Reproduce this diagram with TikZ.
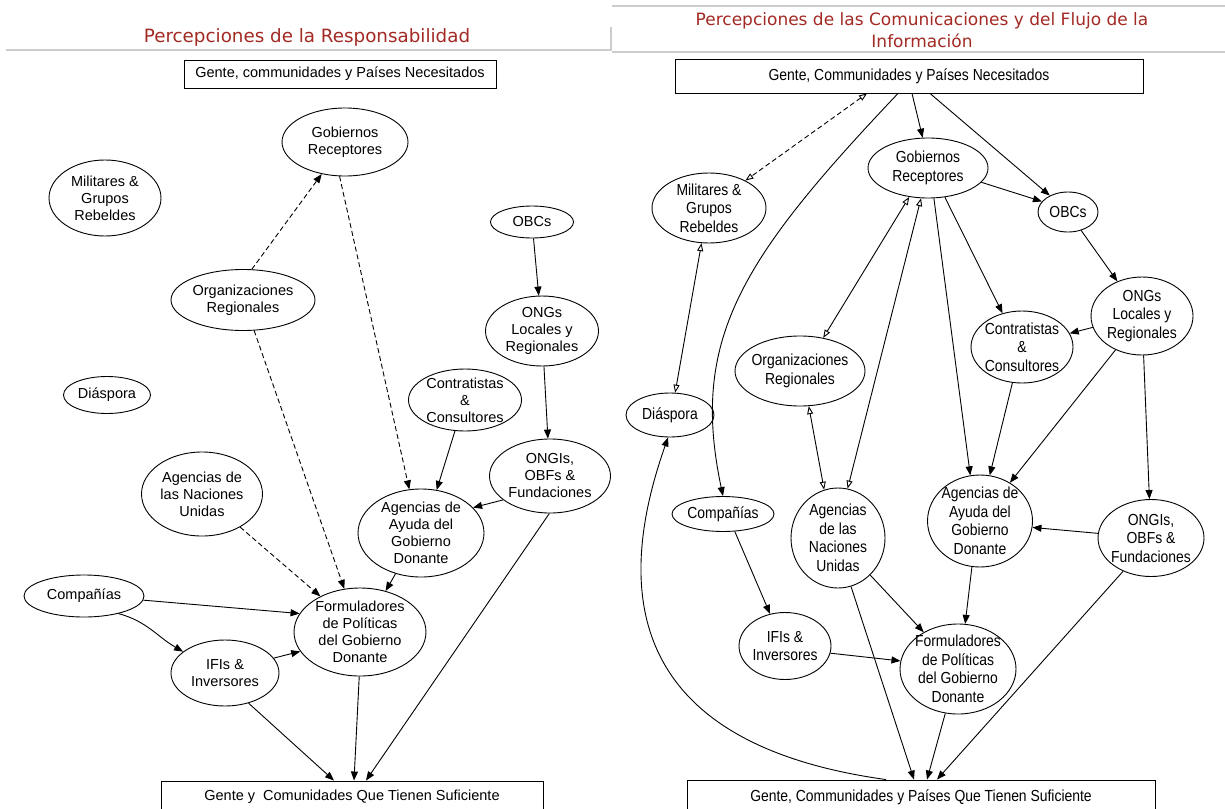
\documentclass[tikz,border=0pt]{standalone}
\usepackage{fontspec}
\setmainfont{Liberation Sans}
\newfontfamily\narrowsans[FakeStretch=0.87]{Liberation Sans}
\newfontfamily\titlefont{DejaVu Sans}
\usetikzlibrary{shapes.geometric, arrows.meta}
\definecolor{titlered}{RGB}{163,42,36}
\begin{document}
\begin{tikzpicture}[x=1pt, y=-1pt,
    actor/.style={ellipse, draw, line width=0.9pt, inner sep=-6pt, align=center, font=\fontsize{14.5}{17}\selectfont},
    actorR/.style={actor, font=\narrowsans\fontsize{16}{18.5}\selectfont},
    box/.style={draw, line width=0.9pt, inner sep=0pt, font=\fontsize{14.5}{17}\selectfont},
    boxR/.style={box, font=\narrowsans\fontsize{16}{18.5}\selectfont},
    flow/.style={-{Triangle[length=9pt, width=7pt]}, line width=0.9pt},
    hint/.style={flow, dash pattern=on 5pt off 3pt},
    link/.style={{Triangle[open, length=8pt, width=6pt]}-{Triangle[open, length=8pt, width=6pt]}, line width=0.9pt},
    title/.style={text=titlered, anchor=base, inner sep=0pt},
    rule/.style={draw=black!20, line width=1.6pt}]
    \path[use as bounding box, fill=white] (0, 0) rectangle (1225, 808);
    \draw[rule] (6, 50) -- (611, 50) -- (611, 27);
    \draw[rule] (612, 6) -- (1225, 6);
    \draw[rule] (612, 52) -- (1225, 52);
    \node[title, font=\titlefont\fontsize{18.3}{22}\selectfont] (headL) at (307, 43) {Percepciones de la Responsabilidad};
    \node[title, font=\titlefont\fontsize{17}{22}\selectfont] (headR) at (922, 26) {Percepciones de las Comunicaciones y del Flujo de la};
    \node[title, font=\titlefont\fontsize{17}{22}\selectfont] (headR2) at (922, 48) {Información};

    \node[box, minimum width=312pt, minimum height=28pt] (needL) at (340, 74) {Gente, communidades y Países Necesitados};
    \node[actor, minimum width=126pt, minimum height=68pt] (gobL) at (345, 142) {Gobiernos\\Receptores};
    \node[actor, minimum width=112pt, minimum height=76pt] (milL) at (105, 198) {Militares \&\\Grupos\\Rebeldes};
    \node[actor, minimum width=83pt, minimum height=32pt] (obcL) at (532, 222) {OBCs};
    \node[actor, minimum width=144pt, minimum height=61pt] (orgL) at (243, 300) {Organizaciones\\Regionales};
    \node[actor, minimum width=113pt, minimum height=70pt] (ongL) at (542, 331) {ONGs\\Locales y\\Regionales};
    \node[actor, minimum width=87pt, minimum height=37pt] (diaL) at (107, 395) {Diáspora};
    \node[actor, minimum width=113pt, minimum height=62pt] (conL) at (465, 400) {Contratistas\\\&\\Consultores};
    \node[actor, minimum width=121pt, minimum height=74pt] (ongiL) at (550, 476) {ONGIs,\\OBFs \&\\Fundaciones};
    \node[actor, minimum width=121pt, minimum height=84pt] (unL) at (202, 494) {Agencias de\\las Naciones\\Unidas};
    \node[actor, minimum width=126pt, minimum height=88pt] (aidL) at (421, 533) {Agencias de\\Ayuda del\\Gobierno\\Donante};
    \node[actor, minimum width=120pt, minimum height=42pt] (compL) at (84, 596) {Compañías};
    \node[actor, minimum width=132pt, minimum height=88pt] (polL) at (360, 632) {Formuladores\\de Políticas\\del Gobierno\\Donante};
    \node[actor, minimum width=108pt, minimum height=66pt] (ifiL) at (225, 673) {IFIs \&\\Inversores};
    \node[box, minimum width=382pt, minimum height=31pt] (richL) at (352, 796.5) {Gente y~ Comunidades Que Tienen Suficiente};

    \draw[hint] (orgL.74) -- (gobL.-126);
    \draw[hint] (gobL.-99) -- (aidL.105);
    \draw[hint] (orgL.-70) -- (polL.110);
    \draw[hint] (unL.-41) -- (polL.138);
    \draw[flow] (obcL) -- (ongL);
    \draw[flow] (ongL) -- (ongiL);
    \draw[flow] (conL.-108) -- (aidL.70);
    \draw[flow] (ongiL.-153) -- (aidL.26);
    \draw[flow] (aidL.-122) -- (polL.58);
    \draw[flow] (compL.-4) -- (polL.163);
    \draw[flow] (compL.-27) to[out=-15, in=150] (ifiL.153);
    \draw[flow] (ifiL.17) -- (polL.198);
    \draw[flow] (ifiL.-52) -- ([xshift=-18pt]richL.north);
    \draw[flow] (polL.-91) -- ([xshift=2pt]richL.north);
    \draw[flow] (ongiL.-91) -- ([xshift=14pt]richL.north);

    \node[boxR, minimum width=468pt, minimum height=34pt] (needR) at (909, 76) {Gente, Communidades y Países Necesitados};
    \node[actorR, minimum width=120pt, minimum height=60pt] (gobR) at (928, 168) {Gobiernos\\Receptores};
    \node[actorR, minimum width=114pt, minimum height=70pt] (milR) at (709, 208) {Militares \&\\Grupos\\Rebeldes};
    \node[actorR, minimum width=60pt, minimum height=40pt] (obcR) at (1068, 212) {OBCs};
    \node[actorR, minimum width=102pt, minimum height=78pt] (ongR) at (1142, 316) {ONGs\\Locales y\\Regionales};
    \node[actorR, minimum width=102pt, minimum height=72pt] (conR) at (1022, 347) {Contratistas\\\&\\Consultores};
    \node[actorR, minimum width=130pt, minimum height=70pt] (orgR) at (800, 371) {Organizaciones\\Regionales};
    \node[actorR, minimum width=88pt, minimum height=44pt] (diaR) at (670, 415) {Diáspora};
    \node[actorR, minimum width=102pt, minimum height=35pt] (compR) at (723, 514) {Compañías};
    \node[actorR, minimum width=94pt, minimum height=100pt] (unR) at (838, 538) {Agencias\\de las\\Naciones\\Unidas};
    \node[actorR, minimum width=105pt, minimum height=92pt] (aidR) at (980, 521) {Agencias de\\Ayuda del\\Gobierno\\Donante};
    \node[actorR, minimum width=106pt, minimum height=77pt] (ongiR) at (1151, 538) {ONGIs,\\OBFs \&\\Fundaciones};
    \node[actorR, minimum width=92pt, minimum height=67pt] (ifiR) at (785, 646) {IFIs \&\\Inversores};
    \node[actorR, minimum width=116pt, minimum height=90pt] (polR) at (958, 669) {Formuladores\\de Políticas\\del Gobierno\\Donante};
    \node[boxR, minimum width=468pt, minimum height=34pt] (richR) at (921, 797) {Gente, Communidades y Países Que Tienen Suficiente};

    \draw[link, dash pattern=on 5pt off 3pt] ([xshift=-42pt]needR.south) -- (milR.37);
    \draw[flow] ([xshift=3pt]needR.south) -- (gobR.100);
    \draw[flow] ([xshift=21pt]needR.south) -- (obcR.138);
    \draw[flow] ([xshift=-11pt]needR.south) .. controls (740, 260) and (690, 340) .. (compR.north);
    \draw[flow] (gobR.-15) -- (obcR.158);
    \draw[flow] (obcR) -- (ongR);
    \draw[link] (gobR.-123) -- (orgR.55);
    \draw[link] (gobR.-103) -- (unR.79);
    \draw[flow] (gobR.-79) -- (aidR.102);
    \draw[flow] (gobR.-60) -- (conR.120);
    \draw[flow] (ongR.193) -- (conR.16);
    \draw[flow] (ongR.-128) -- (aidR.52);
    \draw[flow] (ongR) -- (ongiR);
    \draw[flow] (conR.-105) -- (aidR.78);
    \draw[link] (milR.-102) -- (diaR.77);
    \draw[link] (orgR.-76) -- (unR.106);
    \draw[flow] (compR.-56) -- (ifiR.115);
    \draw[flow] (unR.-49) -- (polR.133);
    \draw[flow] (unR.-75) -- ([xshift=-7pt]richR.north);
    \draw[flow] (ifiR.-9) -- (polR.172);
    \draw[flow] (aidR.-100) -- (polR.81);
    \draw[flow] (ongiR.175) -- (aidR.-7);
    \draw[flow] (polR.-106) -- ([xshift=6pt]richR.north);
    \draw[flow] (ongiR.-130) -- ([xshift=16pt]richR.north);
    \draw[flow] ([xshift=-35pt]richR.north) .. controls (600, 740) and (625, 560) .. (diaR.-95);
\end{tikzpicture}
\end{document}
